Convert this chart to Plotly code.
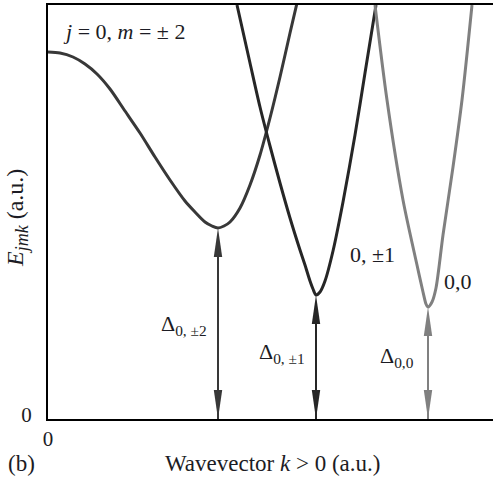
import plotly.graph_objects as go

# ---- data (arbitrary units) ----
k_m2 = [0.0, 1.2, 2.5, 3.7, 4.9, 6.2, 7.7, 9.2, 10.7, 12.2, 13.7, 14.7, 15.7, 16.4, 17.0,
        17.6, 18.2, 19.2, 20.2, 21.2, 22.2, 23.2, 24.2, 24.9]
E_m2 = [36.7, 36.6, 36.2, 35.5, 34.5, 33.0, 30.8, 28.6, 26.2, 23.9, 21.8, 20.7, 19.7, 19.3, 19.1,
        19.3, 19.7, 21.1, 23.4, 26.4, 30.1, 34.2, 38.6, 41.6]

k_m1 = [18.9, 20.2, 21.2, 22.2, 23.2, 24.2, 25.2, 25.7, 26.2, 26.5, 26.8,
        27.2, 27.7, 28.5, 29.5, 30.7, 31.7, 32.8]
E_m1 = [41.4, 35.6, 31.2, 27.3, 23.6, 20.1, 16.9, 15.4, 13.8, 13.0, 12.4,
        12.7, 13.8, 16.8, 21.7, 28.4, 34.6, 41.4]

k_m0 = [32.7, 33.9, 35.5, 36.9, 37.5, 37.8, 38.0, 38.4, 38.8, 39.5, 40.5, 41.4, 42.4]
E_m0 = [41.4, 31.9, 21.9, 15.4, 12.7, 11.5, 11.2, 11.7, 13.1, 18.4, 25.2, 31.9, 41.4]

curve_labels = ["0, ±1", "0,0"]
gap_labels = ["Δ<sub>0, ±2</sub>", "Δ<sub>0, ±1</sub>", "Δ<sub>0,0</sub>"]
x_tick_labels = ["0"]
y_tick_labels = ["0"]

K_MAX = 44.5
E_MAX = 41.4

FONT = "Liberation Serif"
TXT = "#1c1c24"
series = [
    (k_m2, E_m2, "#383838"),
    (k_m1, E_m1, "#262626"),
    (k_m0, E_m0, "#808080"),
]

fig = go.Figure()
shapes = []
HEAD_L = 2.9   # arrowhead length (E units)
HEAD_W = 0.42  # arrowhead half-width (k units)
for k, E, col in series:
    fig.add_trace(go.Scatter(x=k, y=E, mode="lines",
                             line=dict(color=col, width=3, shape="spline", smoothing=0.8),
                             hoverinfo="skip", showlegend=False))
    i = E.index(min(E))
    xa, ea = k[i], E[i]
    shapes.append(dict(type="line", x0=xa, x1=xa, y0=0, y1=ea - 1,
                       xref="x", yref="y", line=dict(color=col, width=2)))
    shapes.append(dict(type="path", xref="x", yref="y", fillcolor=col, line=dict(width=0),
                       path=f"M{xa},{ea} L{xa-HEAD_W},{ea-HEAD_L} L{xa+HEAD_W},{ea-HEAD_L} Z"))
    shapes.append(dict(type="path", xref="x", yref="y", fillcolor=col, line=dict(width=0),
                       path=f"M{xa},0 L{xa-HEAD_W},{HEAD_L} L{xa+HEAD_W},{HEAD_L} Z"))

ann = []
def txt(x, y, s, size=22, xref="x", yref="y", **kw):
    ann.append(dict(x=x, y=y, xref=xref, yref=yref, text=s, showarrow=False,
                    xanchor=kw.pop("xanchor", "center"), yanchor="middle",
                    font=dict(family=FONT, size=size, color=TXT), **kw))

txt(1.3, 38.8, "<i>j</i> = 0, <i>m</i> = ± 2", xanchor="left")
txt(32.4, 16.5, curve_labels[0])
txt(41.0, 13.8, curve_labels[1])
txt(13.6, 9.4, gap_labels[0])
txt(23.4, 6.6, gap_labels[1])
txt(34.9, 6.2, gap_labels[2])
# axis titles / panel label
txt((272 - 48) / 445, -44 / 414, "Wavevector <i>k</i> > 0 (a.u.)", size=23,
    xref="paper", yref="paper")
txt((21 - 48) / 445, -44 / 414, "(b)", size=23, xref="paper", yref="paper")
txt((17 - 48) / 445, (419 - 218) / 414,
    "<i>E</i><sub><span style='font-size:18px'><i>jmk</i></span></sub> (a.u.)",
    size=24, xref="paper", yref="paper", textangle=-90)

fig.update_layout(
    width=493, height=479,
    margin=dict(l=48, r=0, t=5, b=60, autoexpand=False),
    paper_bgcolor="white", plot_bgcolor="white",
    shapes=shapes, annotations=ann, showlegend=False,
    xaxis=dict(range=[0, K_MAX], showgrid=False, zeroline=False,
               showline=True, mirror=True, linecolor="black", linewidth=2,
               tickvals=[0], ticktext=x_tick_labels, ticks="", ticklabelstandoff=0,
               tickfont=dict(family=FONT, size=21, color=TXT), automargin=False),
    yaxis=dict(range=[0, E_MAX], showgrid=False, zeroline=False,
               showline=True, linecolor="black", linewidth=2,
               tickvals=[0], ticktext=y_tick_labels, ticks="", ticklabelstandoff=10,
               ticklabelshift=-4,
               tickfont=dict(family=FONT, size=21, color=TXT), automargin=False),
)

fig.write_html("out.html", config={"displayModeBar": False},
               post_script="document.body.style.margin='0';document.body.style.padding='0';")
